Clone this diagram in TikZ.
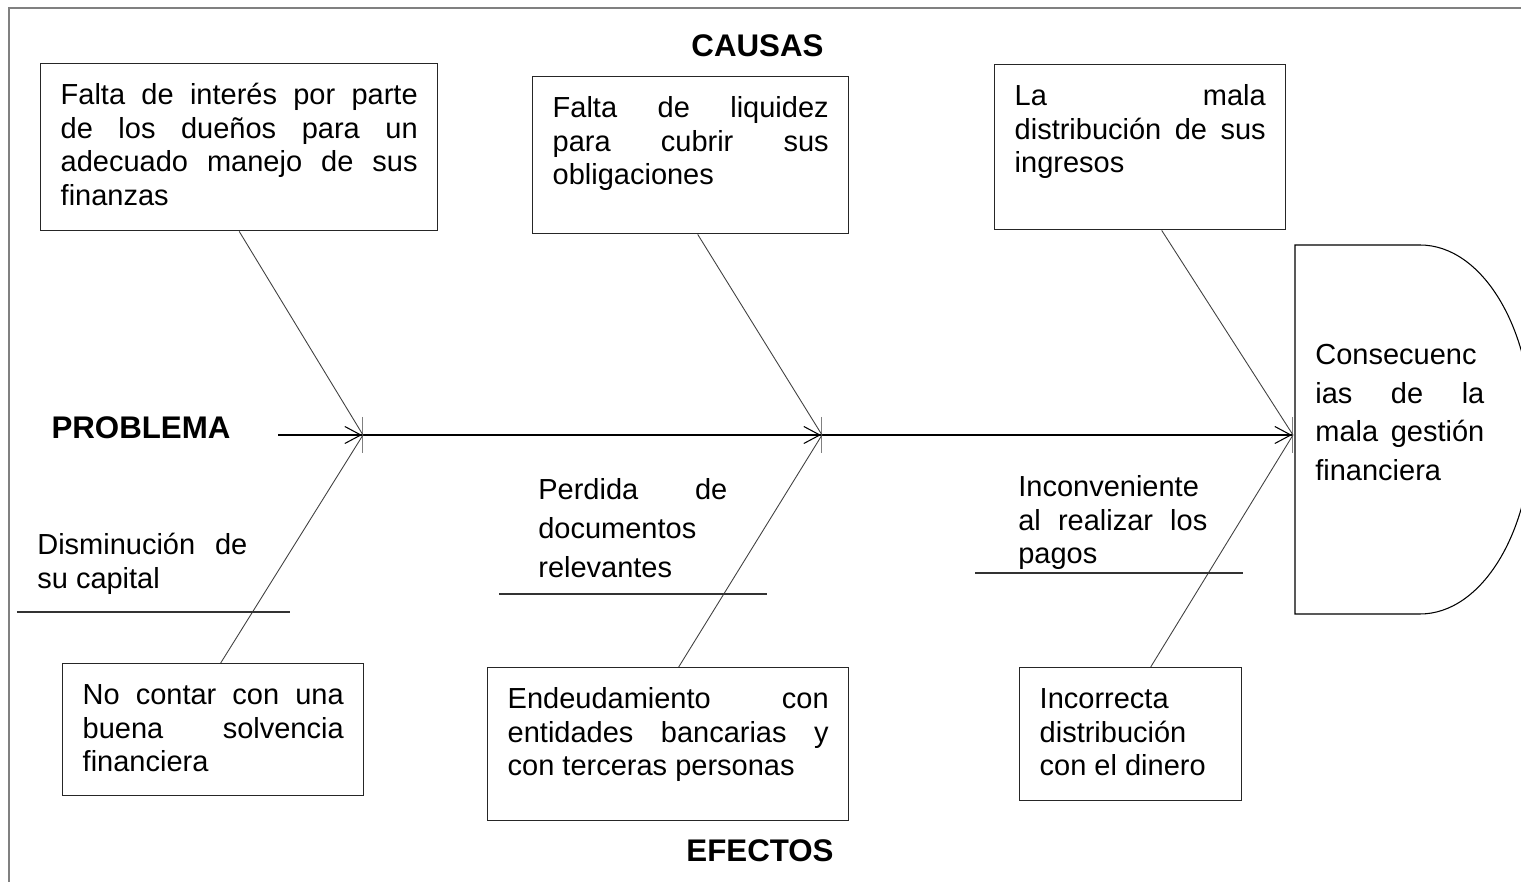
\documentclass[tikz,border=0pt]{standalone}
\usepackage{fontspec}
\setmainfont{Liberation Sans}
\usetikzlibrary{arrows.meta}
\tolerance=10000
\hbadness=10000
\hyphenpenalty=10000

\begin{document}
\begin{tikzpicture}[
  caja/.style={draw=black!85, line width=0.8pt, anchor=north west, inner sep=0.4cm, text height=0.42cm, align=justify, font=\fontsize{16.5}{19.1}\selectfont},
  texto/.style={anchor=base west, inner sep=0pt, align=justify, font=\fontsize{16.5}{19.1}\selectfont},
  titulo/.style={inner sep=0pt, font=\bfseries\fontsize{17.8}{21}\selectfont},
  espina/.style={line width=0.85pt, -{Straight Barb[length=0.32cm,width=0.34cm,line width=0.6pt] Bar[width=0.72cm,line width=0.6pt,color=gray]}},
  rama/.style={line width=0.5pt, black!75},
  raya/.style={line width=0.6pt, black!80},
  marco/.style={line width=1pt, gray}
]
		\useasboundingbox (0,0) rectangle (30.42,17.64);
		\clip (0,0) rectangle (30.42,17.64);
		\draw[marco] (0.18,-0.5) |- (31,17.48);
		% causas
		\node[caja, text width=7.14cm, text depth=2.12cm] (causa1) at (0.80,16.38) {Falta de interés por parte\linebreak de los dueños para un\linebreak adecuado manejo de sus\linebreak finanzas};
		\node[caja, text width=5.52cm, text depth=1.92cm] (causa2) at (10.64,16.12) {Falta de liquidez\linebreak para cubrir sus\linebreak obligaciones};
		\node[caja, text width=5.02cm, text depth=2.08cm] (causa3) at (19.88,16.36) {La mala\linebreak distribución de sus\linebreak ingresos};
		% efectos
		\node[caja, text width=5.22cm, text depth=1.42cm] (efecto1) at (1.24,4.38) {No contar con una\linebreak buena solvencia\linebreak financiera};
		\node[caja, text width=6.42cm, text depth=1.84cm] (efecto2) at (9.74,4.30) {Endeudamiento con\linebreak entidades bancarias y\linebreak con terceras personas};
		\node[caja, text width=3.64cm, text depth=1.44cm] (efecto3) at (20.38,4.30) {Incorrecta\\ distribución\\ con el dinero};
		\node[titulo] (causas) at (15.15,16.72) {CAUSAS};
		\node[titulo] (efectos) at (15.20,0.62) {EFECTOS};
		\node[titulo] (problema) at (2.82,9.08) {PROBLEMA};
		% cabeza
		\draw[line width=0.6pt] (25.90,12.74) -- (28.40,12.74) arc[start angle=90, end angle=-90, x radius=2.24, y radius=3.69] -- (25.90,5.36) -- cycle;
		\node[texto, text width=3.38cm, font=\fontsize{16.5}{22}\selectfont] (consecuencia) at (26.30,10.35) {Consecuenc\\ ias de la\linebreak mala gestión\linebreak financiera};
		% espina
		\coordinate (inicio) at (5.56,8.94);
		\coordinate (j1) at (7.26,8.94);
		\coordinate (j2) at (16.44,8.94);
		\coordinate (j3) at (25.86,8.94);
		\draw[espina] (inicio) -- (j1);
		\draw[espina] (j1) -- (j2);
		\draw[espina] (j2) -- (j3);
		\draw[rama] (causa1.south) -- (j1);
		\draw[rama] ([xshift=0.14cm]causa2.south) -- (j2);
		\draw[rama] ([xshift=0.43cm]causa3.south) -- (j3);
		\draw[rama] ([xshift=0.15cm]efecto1.north) -- (j1);
		\draw[rama] ([xshift=0.21cm]efecto2.north) -- (j2);
		\draw[rama] ([xshift=0.40cm]efecto3.north) -- (j3);
		% subcausas
		\node[texto, text width=4.2cm] (capital) at (0.74,6.55) {Disminución de\linebreak su capital};
		\node[texto, text width=3.78cm, font=\fontsize{16.5}{22}\selectfont] (documentos) at (10.76,7.64) {Perdida de\linebreak documentos\\ relevantes};
		\node[texto, text width=3.78cm] (pagos) at (20.36,7.71) {Inconveniente\\ al realizar los\linebreak pagos};
		\draw[raya] (0.34,5.40) -- (5.80,5.40);
		\draw[raya] (9.98,5.76) -- (15.34,5.76);
		\draw[raya] (19.50,6.18) -- (24.86,6.18);
\end{tikzpicture}
\end{document}
